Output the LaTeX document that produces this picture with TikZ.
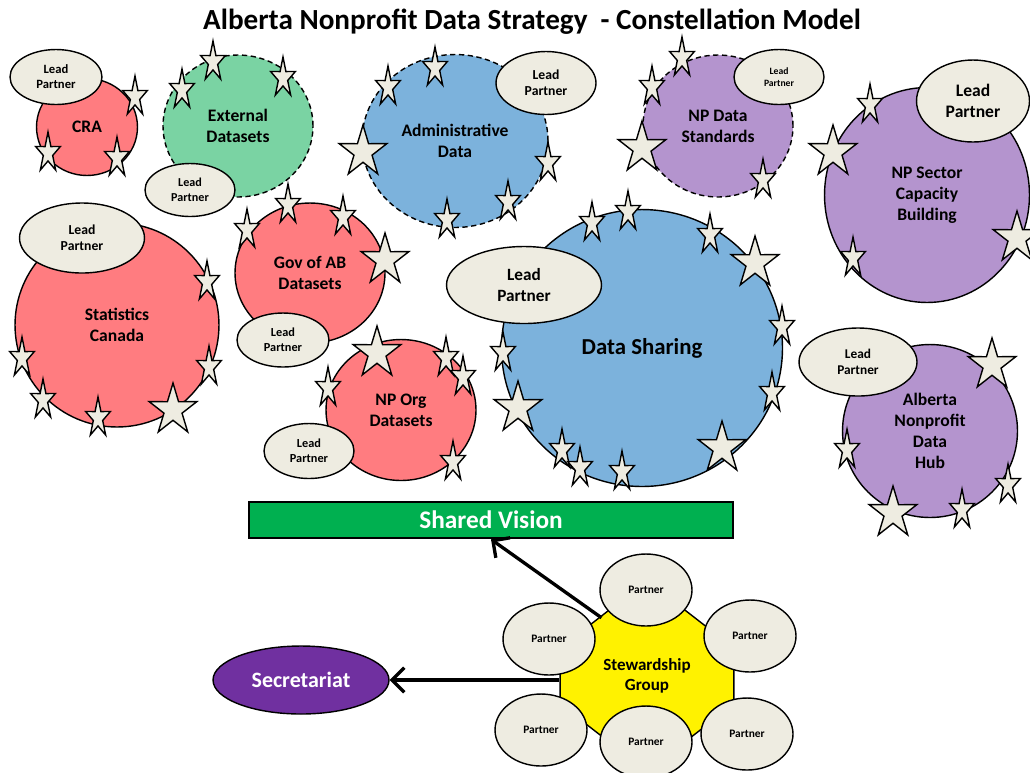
\documentclass[tikz,border=0pt]{standalone}
\usepackage{fontspec}
\setmainfont{Carlito}
\usetikzlibrary{shapes.geometric,arrows.meta}

\definecolor{cirred}{RGB}{255,124,128}
\definecolor{cirgreen}{RGB}{122,211,163}
\definecolor{cirblue}{RGB}{124,178,220}
\definecolor{cirpurple}{RGB}{180,148,206}
\definecolor{paper}{RGB}{238,236,225}
\definecolor{visiongreen}{RGB}{0,176,80}
\definecolor{secpurple}{RGB}{112,48,160}

% font size with matching line spacing
\newcommand{\sz}[1]{\fontsize{#1}{\fpeval{1.2*#1}}\selectfont}

\tikzset{
  % five-point star, #1/#2 = horizontal/vertical outer radius
  pics/spark/.style args={#1/#2}{code={
    \draw[fill=paper] (-90:#1 and #2)
      -- (-54:0.38*#1 and 0.38*#2) -- (-18:#1 and #2) -- (18:0.38*#1 and 0.38*#2)
      -- (54:#1 and #2) -- (90:0.38*#1 and 0.38*#2) -- (126:#1 and #2)
      -- (162:0.38*#1 and 0.38*#2) -- (198:#1 and #2) -- (234:0.38*#1 and 0.38*#2) -- cycle;
  }}
}

\begin{document}
\begin{tikzpicture}[x=0.02cm, y=-0.02cm, line width=0.8pt,
  hub/.style={ellipse, draw, inner sep=0pt, align=center, font=\bfseries\sz{10}},
  rim/.style={dash pattern=on 3pt off 2pt},
  lead/.style={ellipse, draw, fill=paper, inner sep=0pt, align=center, font=\bfseries\sz{#1}},
  partner/.style={ellipse, draw, fill=paper, inner sep=0pt, minimum width=1.84cm, minimum height=1.44cm, font=\bfseries\sz{6.5}},
  link/.style={line width=1.9pt, -{Straight Barb[length=7pt,width=14pt]}}]
  \useasboundingbox (0,0) rectangle (1030,772);

  \node[font=\bfseries\sz{16.6}] (title) at (532,22) {Alberta Nonprofit Data Strategy~~- Constellation Model};

  % constellations
  \node[hub, fill=cirred, minimum width=2.02cm, minimum height=1.94cm] (cra) at (87,127) {CRA};
  \node[hub, rim, fill=cirgreen, minimum width=3cm, minimum height=2.84cm] (extdata) at (238,126) {External\\Datasets};
  \node[hub, rim, fill=cirblue, minimum width=3.72cm, minimum height=3.46cm] (admindata) at (455,141) {Administrative\\Data};
  \node[hub, rim, fill=cirpurple, minimum width=3cm, minimum height=2.84cm] (npstd) at (718,126) {NP Data\\Standards};
  \node[hub, fill=cirpurple, minimum width=4.1cm, minimum height=4.3cm] (npcap) at (927,195) {NP Sector\\Capacity\\Building};
  \node[hub, fill=cirred, minimum width=4.08cm, minimum height=4.08cm] (statcan) at (117,325) {Statistics\\Canada};
  \node[hub, fill=cirred, minimum width=3cm, minimum height=2.8cm] (govab) at (310,273) {Gov of AB\\Datasets};
  \node[hub, fill=cirred, minimum width=3cm, minimum height=2.82cm] (nporg) at (401,410) {NP Org\\Datasets};
  \node[hub, fill=cirblue, minimum width=5.62cm, minimum height=5.54cm, font=\bfseries\sz{13}] (sharing) at (642,348) {Data Sharing};
  \node[hub, fill=cirpurple, minimum width=3.5cm, minimum height=3.46cm] (abhub) at (930,431) {Alberta\\Nonprofit\\Data\\Hub};

  % lead partners
  \node[lead=7.2, minimum width=1.84cm, minimum height=1.1cm] (cralead) at (56,77) {Lead\\Partner};
  \node[lead=6.9, minimum width=1.8cm, minimum height=1.06cm] (extlead) at (190,190) {Lead\\Partner};
  \node[lead=7.8, minimum width=2cm, minimum height=1.26cm] (adminlead) at (546,83) {Lead\\Partner};
  \node[lead=5.5, minimum width=1.8cm, minimum height=1.1cm] (npstdlead) at (779,77) {Lead\\Partner};
  \node[lead=10, minimum width=2.26cm, minimum height=1.64cm] (npcaplead) at (973,101) {Lead\\Partner};
  \node[lead=7.8, minimum width=2.5cm, minimum height=1.4cm] (statlead) at (82,238) {Lead\\Partner};
  \node[lead=7, minimum width=1.84cm, minimum height=1.08cm] (govlead) at (283,340) {Lead\\Partner};
  \node[lead=7, minimum width=1.8cm, minimum height=1.1cm] (orglead) at (309,451) {Lead\\Partner};
  \node[lead=9.8, minimum width=3.1cm, minimum height=1.54cm] (sharelead) at (524,285) {Lead\\Partner};
  \node[lead=7.6, minimum width=2.36cm, minimum height=1.36cm] (hublead) at (858,362) {Lead\\Partner};

  % stars
  \foreach \x/\y in {135/97, 48/153, 117/158, 213/62, 182/90, 283/78,
      435/68, 388/87, 548/163, 508/202, 447/220, 682/58, 652/87, 763/180,
      870/105, 853/258, 207/282, 22/358, 209/367, 43/400, 98/418,
      288/205, 343/217, 247/230, 446/358, 463/377, 328/388, 453/462,
      592/223, 628/212, 710/235, 782/327, 503/353, 772/393, 562/450, 580/468, 622/472,
      847/450, 1008/485, 962/510}
    \pic at (\x,\y) {spark=13/21};
  \foreach \x/\y in {363/152, 642/148, 833/152, 1017/238, 173/410, 385/260,
      377/353, 755/263, 518/408, 722/448, 992/365, 893/513}
    \pic at (\x,\y) {spark=25/27};

  % governance
  \node[draw, fill=visiongreen, line width=1.5pt, inner sep=0pt, minimum width=9.68cm, minimum height=0.72cm, text=white, font=\bfseries\sz{14.4}] (vision) at (491,520) {Shared Vision};
  \node[ellipse, draw, fill=secpurple, inner sep=0pt, minimum width=3.52cm, minimum height=1.36cm, text=white, font=\bfseries\sz{12.5}] (secretariat) at (301,680) {Secretariat};
  \filldraw[fill=yellow, shift={(647,676)}] (22.5:94 and 73) \foreach \a in {67.5,112.5,...,337.5} {-- (\a:94 and 73)} -- cycle;
  \node[ellipse, inner sep=0pt, minimum width=3.48cm, minimum height=2.7cm, align=center, font=\bfseries\sz{9.7}] (steward) at (647,676) {Stewardship\\Group};
  \draw[link] (steward.128) -- (vision.south);
  \draw[link] (steward.west |- secretariat.east) -- (secretariat.east);
  \foreach \x/\y [count=\i] in {646/590, 549/639, 750/636, 541/730, 646/742, 747/734}
    \node[partner] (partner\i) at (\x,\y) {Partner};
\end{tikzpicture}
\end{document}
